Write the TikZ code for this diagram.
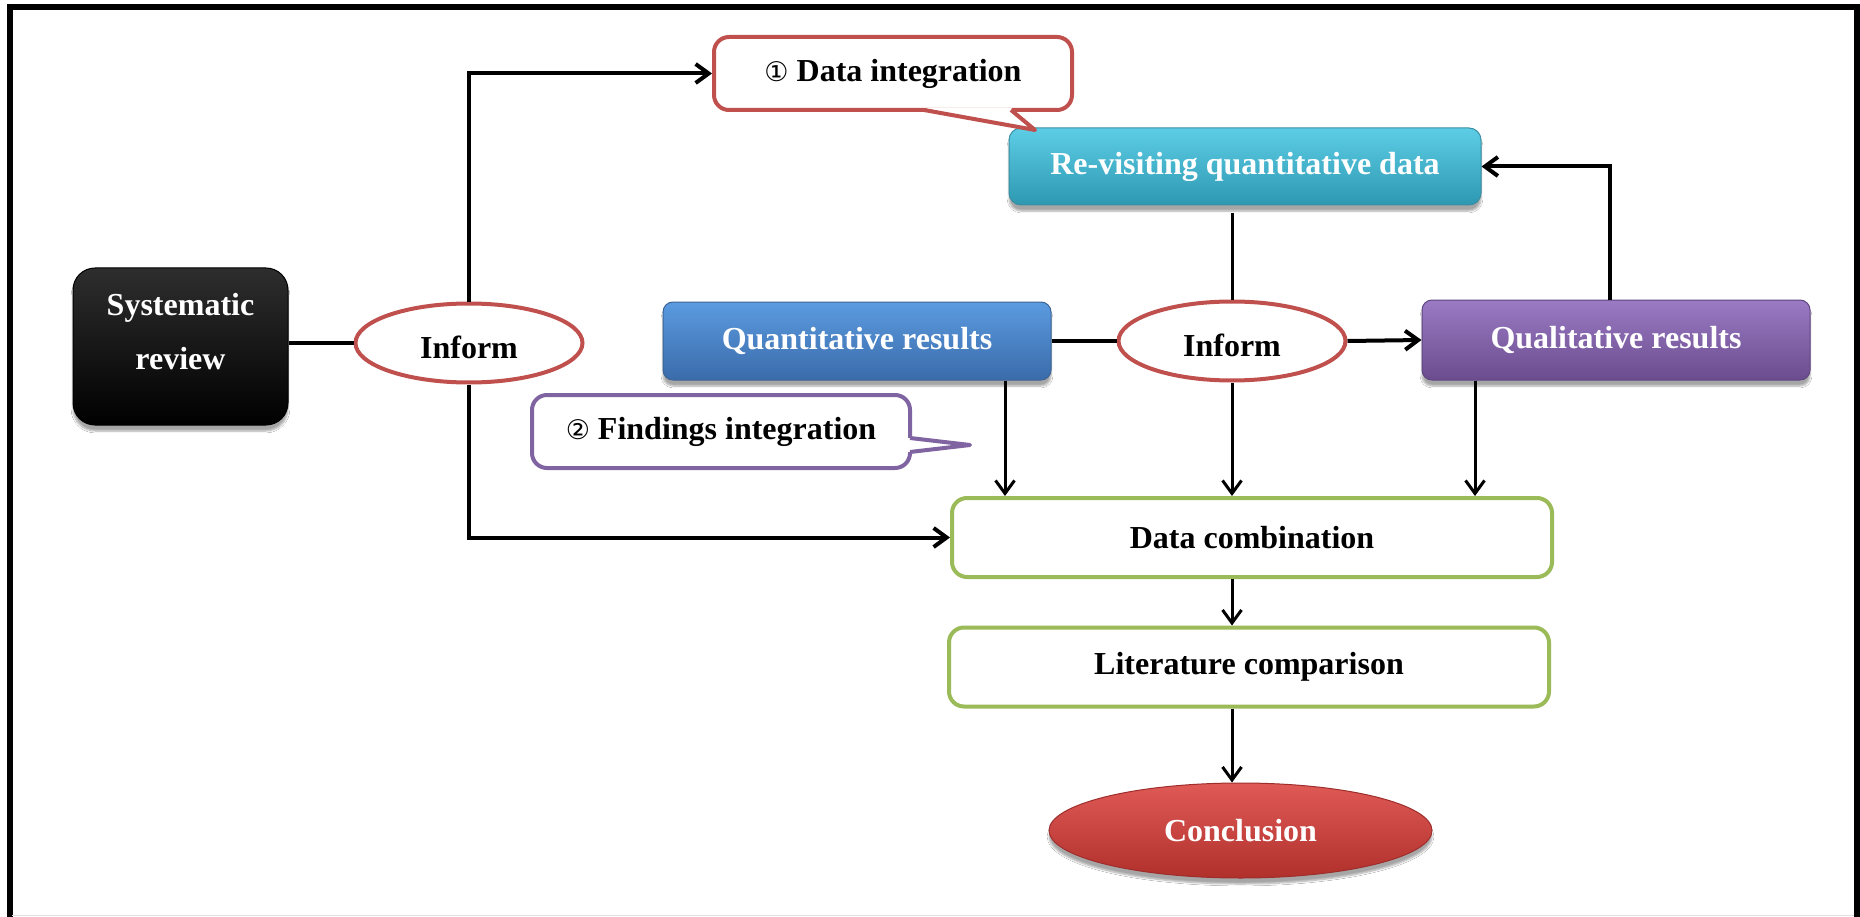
\documentclass[tikz,border=0pt]{standalone}
\usepackage{fontspec}
\setmainfont{Liberation Serif}
\newfontfamily\symfont{DejaVu Sans}
\usetikzlibrary{arrows.meta,shapes.geometric,shadows.blur}

\definecolor{cRed}{HTML}{C0504D}
\definecolor{cPurple}{HTML}{8064A2}
\definecolor{cGreen}{HTML}{9BBB59}
\definecolor{qTop}{HTML}{5B9BE0}
\definecolor{qBot}{HTML}{3A6BAA}
\definecolor{qLine}{HTML}{3C6494}
\definecolor{rTop}{HTML}{5DCDE6}
\definecolor{rBot}{HTML}{2E98B1}
\definecolor{rLine}{HTML}{3A8EA3}
\definecolor{pTop}{HTML}{9A7BC4}
\definecolor{pBot}{HTML}{6B4C8E}
\definecolor{pLine}{HTML}{5E4680}
\definecolor{cTop}{HTML}{E05A56}
\definecolor{cBot}{HTML}{B0302C}
\definecolor{cLine}{HTML}{9E2E2B}

\begin{document}
\begin{tikzpicture}[x=1pt,y=-1pt,
  every node/.style={font=\fontsize{32}{38}\selectfont\bfseries, inner sep=0pt},
  shadowed/.style={blur shadow={shadow xshift=0pt, shadow yshift=-6pt, shadow blur steps=6, shadow opacity=35}},
  colbox/.style={rectangle, rounded corners=#1, shadowed, text=white, line width=1pt},
  informell/.style={ellipse, draw=cRed, fill=white, line width=4pt, minimum width=227pt, minimum height=79pt, text height=31pt, text depth=0pt},
  greenbox/.style={rectangle, rounded corners=15pt, draw=cGreen, fill=white, line width=4pt, minimum width=600pt, minimum height=79pt},
  callbox/.style={rectangle, rounded corners=15pt, fill=white, line width=4pt},
  ln/.style={line width=3pt, draw=black},
  thick ln/.style={line width=4pt, draw=black},
  arr/.style={-{Straight Barb[length=13pt,width=19pt]}}
]
\useasboundingbox (0,0) rectangle (1860,917);
\fill[white] (0,0) rectangle (1860,917);

% frame
\draw[line width=6pt, line cap=butt] (9.5,917) -- (9.5,7) -- (1857,7) -- (1857,917);
\draw[black!12, line width=1pt] (12,915.5) -- (1854,915.5);

% nodes
\node[colbox=22pt, top color=black!82, bottom color=black, draw=black, minimum width=215pt, minimum height=157pt] (sys) at (180.5,346.5) {};
\node[text=white, align=center, font=\fontsize{32}{54}\selectfont\bfseries] (systxt) at (180.5,332) {Systematic\\review};

\node[informell] (inf1) at (469,343) {Inform};

\node[colbox=10pt, top color=qTop, bottom color=qBot, draw=qLine, minimum width=388pt, minimum height=78pt] (quant) at (857,341) {Quantitative results};

\node[informell] (inf2) at (1232,341) {Inform};

\node[colbox=10pt, top color=pTop, bottom color=pBot, draw=pLine, minimum width=388pt, minimum height=80pt] (qual) at (1616,340) {Qualitative results};

\node[colbox=12pt, top color=rTop, bottom color=rBot, draw=rLine, minimum width=472pt, minimum height=77pt] (revis) at (1245,166.5) {Re-visiting quantitative data};

\node[greenbox] (comb) at (1252,537.5) {Data combination};
\node[greenbox] (lit) at (1249,667) {Literature comparison};

\node[ellipse, shadowed, top color=cTop, bottom color=cBot, draw=cLine, line width=1pt, text=white, minimum width=383pt, minimum height=95pt] (concl) at (1240.5,830.5) {Conclusion};

% callout 1
\node[callbox, draw=cRed, minimum width=358pt, minimum height=73pt] (dint) at (893,73.5) {{\symfont\fontsize{27}{30}\selectfont\mdseries ①} Data integration};
\coordinate (d1) at (924,110);
\coordinate (dtip) at (1035,130);
\coordinate (d2) at (1011,110);
\fill[white] ([yshift=2pt]d1) -- (dtip) -- ([yshift=2pt]d2) -- cycle;
\draw[cRed, line width=4pt, line join=round] (d1) -- (dtip) -- (d2);

% callout 2
\node[callbox, draw=cPurple, minimum width=378pt, minimum height=73pt] (fint) at (721,431.5) {{\symfont\fontsize{27}{30}\selectfont\mdseries ②} Findings integration};
\coordinate (f1) at (910,438);
\coordinate (ftip) at (970,445);
\coordinate (f2) at (910,452);
\fill[white] ([xshift=-2pt]f1) -- (ftip) -- ([xshift=-2pt]f2) -- cycle;
\draw[cPurple, line width=4pt, line join=round] (f1) -- (ftip) -- (f2);

% connectors
\draw[thick ln] (inf1.west) -- (inf1.west -| sys.east);
\draw[thick ln, arr] (inf1.north) |- (dint.west);
\draw[thick ln, arr] (inf1.south) |- (comb.west);

\draw[thick ln] (quant.east) -- (inf2.west);
\draw[thick ln, arr] (inf2.east) -- (qual.west);

\coordinate (rvb) at ([yshift=-8pt]inf2.north |- revis.south);
\draw[ln] (rvb) -- (inf2.north);
\draw[ln, arr] (inf2.south) -- (inf2.south |- comb.north);

\coordinate (qa) at ([xshift=148pt]quant.south);
\draw[ln, arr] (qa) -- (qa |- comb.north);
\coordinate (pa) at ([xshift=-141pt]qual.south);
\draw[ln, arr] (pa) -- (pa |- comb.north);

\coordinate (pu) at ([xshift=-6pt]qual.north);
\draw[thick ln, arr] (pu) |- (revis.east);

\draw[ln, arr] (inf2.south |- comb.south) -- (inf2.south |- lit.north);
\draw[ln, arr] (inf2.south |- lit.south) -- (inf2.south |- concl.north);
\end{tikzpicture}
\end{document}
